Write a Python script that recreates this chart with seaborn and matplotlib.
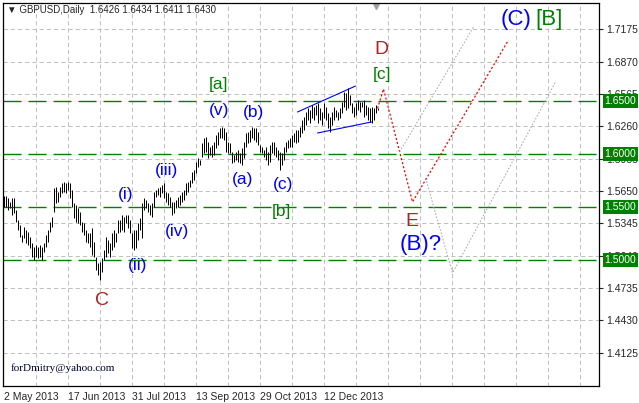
import numpy as np
import pandas as pd
import matplotlib
matplotlib.use("Agg")
import matplotlib.pyplot as plt
import matplotlib.transforms as mtransforms
import seaborn as sns

# daily GBPUSD bars (bar 0 = 2 May 2013)
start_date = "2013-05-02"
highs = [
    1.5604, 1.5604, 1.5585, 1.5548, 1.5585, 1.5585, 1.5472, 1.5378, 1.5331, 1.5236,
    1.5312, 1.5284, 1.5265, 1.5218, 1.5161, 1.5123, 1.5142, 1.5123, 1.5142, 1.5123,
    1.5161, 1.5236, 1.5284, 1.5359, 1.5406, 1.5680, 1.5689, 1.5642, 1.5689, 1.5727,
    1.5736, 1.5727, 1.5736, 1.5727, 1.5661, 1.5538, 1.5519, 1.5491, 1.5453, 1.5359,
    1.5350, 1.5284, 1.5255, 1.5255, 1.5302, 1.5170, 1.5029, 1.4972, 1.4982, 1.5020,
    1.5095, 1.5218, 1.5189, 1.5161, 1.5255, 1.5284, 1.5255, 1.5378, 1.5378, 1.5425,
    1.5406, 1.5425, 1.5425, 1.5378, 1.5255, 1.5284, 1.5284, 1.5350, 1.5397, 1.5538,
    1.5585, 1.5566, 1.5538, 1.5519, 1.5538, 1.5642, 1.5661, 1.5680, 1.5689, 1.5708,
    1.5727, 1.5642, 1.5632, 1.5595, 1.5548, 1.5548, 1.5566, 1.5595, 1.5614, 1.5642,
    1.5661, 1.5727, 1.5736, 1.5755, 1.5830, 1.5849, 1.5925, 1.5962, 1.5944, 1.6104,
    1.6151, 1.6161, 1.6113, 1.6066, 1.6085, 1.6113, 1.6179, 1.6208, 1.6245, 1.6255,
    1.6245, 1.6208, 1.6113, 1.6104, 1.6019, 1.5991, 1.6019, 1.6038, 1.6010, 1.6057,
    1.6113, 1.6198, 1.6208, 1.6227, 1.6255, 1.6245, 1.6245, 1.6208, 1.6085, 1.6066,
    1.6038, 1.6066, 1.6019, 1.6085, 1.6113, 1.6113, 1.6066, 1.6038, 1.6019, 1.6010,
    1.6066, 1.6113, 1.6132, 1.6151, 1.6179, 1.6198, 1.6227, 1.6227, 1.6255, 1.6321,
    1.6349, 1.6396, 1.6434, 1.6415, 1.6462, 1.6443, 1.6462, 1.6481, 1.6434, 1.6396,
    1.6481, 1.6443, 1.6387, 1.6349, 1.6396, 1.6443, 1.6415, 1.6396, 1.6434, 1.6491,
    1.6585, 1.6575, 1.6623, 1.6557, 1.6481, 1.6443, 1.6481, 1.6509, 1.6491, 1.6491,
    1.6509, 1.6462, 1.6443, 1.6434, 1.6443, 1.6434, 1.6462, 1.6434,
]
lows = [
    1.5500, 1.5500, 1.5472, 1.5491, 1.5425, 1.5444, 1.5359, 1.5284, 1.5218, 1.5170,
    1.5208, 1.5161, 1.5142, 1.5114, 1.5029, 1.5000, 1.5029, 1.5020, 1.5029, 1.5000,
    1.5076, 1.5123, 1.5170, 1.5265, 1.5312, 1.5453, 1.5538, 1.5548, 1.5595, 1.5632,
    1.5642, 1.5632, 1.5661, 1.5585, 1.5500, 1.5397, 1.5359, 1.5350, 1.5331, 1.5265,
    1.5236, 1.5170, 1.5161, 1.5123, 1.5048, 1.5029, 1.4906, 1.4859, 1.4812, 1.4887,
    1.5000, 1.5029, 1.5067, 1.5029, 1.5095, 1.5123, 1.5170, 1.5255, 1.5265, 1.5284,
    1.5265, 1.5350, 1.5302, 1.5255, 1.5114, 1.5095, 1.5114, 1.5189, 1.5284, 1.5208,
    1.5472, 1.5491, 1.5453, 1.5425, 1.5406, 1.5500, 1.5595, 1.5614, 1.5595, 1.5632,
    1.5585, 1.5548, 1.5519, 1.5500, 1.5425, 1.5444, 1.5491, 1.5500, 1.5519, 1.5548,
    1.5566, 1.5614, 1.5642, 1.5689, 1.5727, 1.5755, 1.5821, 1.5878, 1.5896, 1.5972,
    1.6010, 1.6019, 1.5962, 1.5991, 1.5972, 1.5991, 1.6057, 1.6085, 1.6151, 1.6151,
    1.6132, 1.6019, 1.6010, 1.6010, 1.5915, 1.5925, 1.5944, 1.5925, 1.5915, 1.5896,
    1.5962, 1.6066, 1.6104, 1.6113, 1.6151, 1.6132, 1.6113, 1.6085, 1.6019, 1.6010,
    1.5972, 1.5944, 1.5896, 1.5925, 1.6010, 1.5991, 1.5972, 1.5944, 1.5849, 1.5896,
    1.5944, 1.6019, 1.6057, 1.6066, 1.6066, 1.6113, 1.6104, 1.6113, 1.6161, 1.6198,
    1.6227, 1.6274, 1.6321, 1.6293, 1.6340, 1.6321, 1.6368, 1.6293, 1.6321, 1.6274,
    1.6340, 1.6321, 1.6245, 1.6208, 1.6274, 1.6321, 1.6349, 1.6321, 1.6340, 1.6387,
    1.6443, 1.6415, 1.6434, 1.6462, 1.6387, 1.6349, 1.6368, 1.6415, 1.6396, 1.6443,
    1.6349, 1.6368, 1.6321, 1.6302, 1.6293, 1.6321, 1.6387, 1.6411,
]

price_ticks = [1.4125, 1.4430, 1.4735, 1.5040, 1.5345, 1.5650,
               1.5955, 1.6260, 1.6565, 1.6870, 1.7175]
level_lines = [1.6500, 1.6000, 1.5500, 1.5000]

# triangle drawn around the last leg
upper_x, upper_y = [147, 176], [1.6396, 1.6641]
lower_x, lower_y = [157, 184], [1.6198, 1.6302]
# main forecast (red) and alternative paths (grey)
main_x, main_y = [187, 190, 204.5, 252.5], [1.6430, 1.6613, 1.5548, 1.7075]
alt1_x, alt1_y = [198, 235], [1.6019, 1.7198]
alt2_x, alt2_y = [211, 224.5, 276], [1.5774, 1.4878, 1.6679]

# wave marks: text, bar, price, kind
wave_text = ["C", "(i)", "(ii)", "(iii)", "(iv)", "(v)", "[a]", "(a)", "(b)", "(c)",
             "[b]", "D", "[c]", "E", "(B)?", "(C)", "[B]"]
wave_bar = [49, 61, 67, 81.5, 86.5, 108, 107.5, 119.5, 125, 140,
            139, 189, 189, 204, 208.5, 256.5, 273]
wave_price = [1.4623, 1.5614, 1.4953, 1.5849, 1.5265, 1.6406, 1.6660, 1.5755, 1.6396, 1.5708,
              1.5453, 1.6981, 1.6745, 1.5368, 1.5142, 1.7264, 1.7264]
wave_kind = ["major", "minor", "minor", "minor", "minor", "minor", "inter", "minor", "minor", "minor",
             "inter", "major", "inter", "major", "big", "big", "bigint"]

sns.set_style("white")
plt.rcParams["font.family"] = ["Liberation Sans", "DejaVu Sans"]
plt.rcParams["lines.scale_dashes"] = False

df = pd.DataFrame({"high": highs, "low": lows})
df["bar"] = np.arange(len(df))
dates = pd.bdate_range(start_date, periods=300)

fig = plt.figure(figsize=(6.39, 4.03), dpi=100)
ax = fig.add_axes([3 / 639, 17 / 403, 596 / 639, 383 / 403])
# quarter-bar shift puts every bar on a pixel centre (2 px per bar)
ax.set_xlim(-0.25, 297.75)
ax.set_ylim(1.3812, 1.7424)

# grid
for p in price_ticks:
    ax.axhline(p, color="#c0c0c0", lw=0.72, dashes=(3, 2.2), zorder=0)
for b in range(16, 298, 16):
    ax.axvline(b, color="#c0c0c0", lw=0.72, dashes=(3, 2.2), zorder=0)
for p in level_lines:
    ax.axhline(p, color="#008000", lw=1.0, dashes=(13, 5), zorder=1)

ax.vlines(df["bar"], df["low"], df["high"], color="black", lw=0.72, zorder=3)

sns.lineplot(x=upper_x, y=upper_y, color="blue", lw=0.8, sort=False, estimator=None, ax=ax)
sns.lineplot(x=lower_x, y=lower_y, color="blue", lw=0.8, sort=False, estimator=None, ax=ax)
sns.lineplot(x=main_x, y=main_y, color="red", lw=0.9, dashes=False, sort=False,
             estimator=None, ax=ax).lines[-1].set_dashes((1.5, 1.5))
ln = ax.plot(alt1_x, alt1_y, color="#a8a8a8", lw=0.7)[0]
ln.set_dashes((1.2, 1.2))
ln = ax.plot(alt2_x, alt2_y, color="#a8a8a8", lw=0.7)[0]
ln.set_dashes((1.2, 1.2))

styles = {
    "major": ("#b22222", 14),
    "minor": ("blue", 12.5),
    "inter": ("#008000", 12.5),
    "big": ("blue", 16),
    "bigint": ("#008000", 16),
}
for t, b, p, k in zip(wave_text, wave_bar, wave_price, wave_kind):
    c, s = styles[k]
    ax.text(b, p, t, color=c, fontsize=s, ha="center", va="center", zorder=5)

# axes
ax.set_xticks(range(0, 298, 32))
labels = [f"{d.day} {d.strftime('%b %Y')}" for d in dates[0:298:32]]
labels = [l if i * 32 < len(df) - 20 else "" for i, l in enumerate(labels)]
ax.set_xticklabels(labels, ha="left", fontsize=7.5)
ax.tick_params(axis="x", direction="out", length=3, width=0.8, pad=1.5)
ax.yaxis.tick_right()
ax.set_yticks(price_ticks)
ax.set_yticklabels([f"{p:.4f}" for p in price_ticks], fontsize=7.5)
ax.tick_params(axis="y", direction="out", length=3, width=0.8, pad=2)
for s in ax.spines.values():
    s.set_color("black")
    s.set_linewidth(0.9)

trans = mtransforms.blended_transform_factory(ax.transAxes, ax.transData)
for p in level_lines:
    ax.text(1.009, p, f"{p:.4f}", transform=trans, color="white", fontsize=7.5,
            ha="left", va="center", clip_on=False, zorder=10,
            bbox=dict(facecolor="#008000", edgecolor="none", pad=1.2))

ax.plot([186], [1.7396], marker="v", color="#a0a0a0", ms=5)
ax.text(0.006, 0.982, "\u25bc GBPUSD,Daily  1.6426 1.6434 1.6411 1.6430",
        transform=ax.transAxes, fontsize=7, va="center", ha="left")
ax.text(0.012, 0.047, "forDmitry@yahoo.com", transform=ax.transAxes,
        fontsize=8, family="Liberation Serif", color="#000033", va="center")
ax.set_xlabel("")
ax.set_ylabel("")

fig.savefig("out.png", dpi=100)
